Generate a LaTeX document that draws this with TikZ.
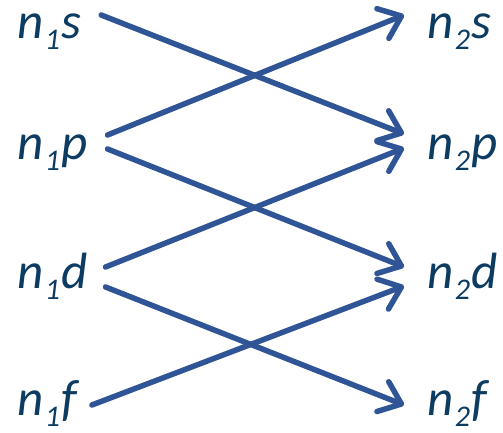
\documentclass[tikz,border=0pt]{standalone}
\usepackage{fontspec}
\setmainfont{Carlito}
\usetikzlibrary{arrows.meta}

\definecolor{lvltext}{HTML}{0D3C63}
\definecolor{lvlarrow}{HTML}{2F5597}

% level label n_i l, subscript set by hand
\newcommand{\lvl}[2]{n\kern1.5pt\raisebox{-11pt}{\fontsize{30}{30}\selectfont #1}\kern1pt#2}

\begin{document}
\begin{tikzpicture}[x=1pt, y=1pt,
		lbl/.style={font=\fontsize{51}{51}\selectfont\itshape, text=lvltext,
			inner sep=0pt, anchor=base west, text height=24pt, text depth=0pt},
		arr/.style={draw=lvlarrow, line width=5.5pt, line cap=round,
			-{Straight Barb[length=20pt, width=32pt, round]}}]
		
		\useasboundingbox (0,0) rectangle (503,432);
		
		% =========================================================
		% Left column: initial levels
		% =========================================================
		\node[lbl] (n1s) at (17,393) {\lvl{1}{s}};
		\node[lbl] (n1p) at (17,273) {\lvl{1}{p}};
		\node[lbl] (n1d) at (17,144) {\lvl{1}{d}};
		\node[lbl] (n1f) at (17,17)  {\lvl{1}{f}};
		
		% =========================================================
		% Right column: final levels
		% =========================================================
		\node[lbl] (n2s) at (427,393) {\lvl{2}{s}};
		\node[lbl] (n2p) at (427,273) {\lvl{2}{p}};
		\node[lbl] (n2d) at (427,144) {\lvl{2}{d}};
		\node[lbl] (n2f) at (427,17)  {\lvl{2}{f}};
		
		% =========================================================
		% Transitions
		% =========================================================
		% s -> p
		\draw[arr] ([shift={(20,12)}]n1s.east) -- ([shift={(-23,13)}]n2p.west);
		% p -> s
		\draw[arr] ([shift={(20,12)}]n1p.east) -- ([shift={(-23,12)}]n2s.west);
		% p -> d
		\draw[arr] ([shift={(20,-2)}]n1p.east) -- ([shift={(-23,9)}]n2d.west);
		% d -> p
		\draw[arr] ([shift={(18,9)}]n1d.east) -- ([shift={(-23,-1)}]n2p.west);
		% d -> f
		\draw[arr] ([shift={(18,-11)}]n1d.east) -- ([shift={(-23,-2)}]n2f.west);
		% f -> d
		\draw[arr] ([shift={(15,-2)}]n1f.east) -- ([shift={(-23,-10)}]n2d.west);
		
	\end{tikzpicture}
\end{document}
